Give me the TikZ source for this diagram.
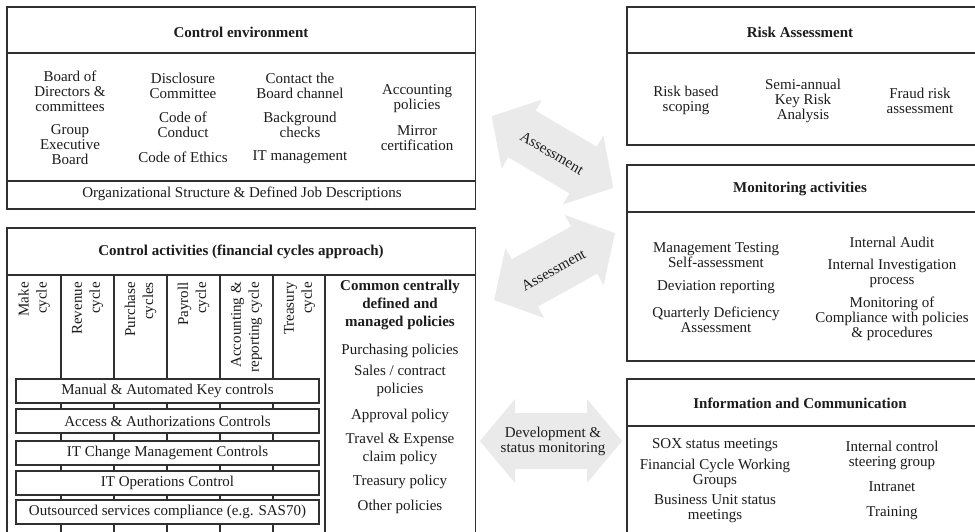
\documentclass[tikz,border=0pt]{standalone}
\usepackage{fontspec}
\setmainfont{Liberation Serif}

\definecolor{linegray}{RGB}{48,48,48}
\definecolor{inkgray}{RGB}{28,28,28}
\definecolor{arrowgray}{RGB}{234,234,234}

\tikzset{
  box/.style={draw=linegray, line width=1.5pt},
  txt/.style={align=center, text=inkgray, inner sep=0pt, font=\fontsize{15}{15}\selectfont},
  ttl/.style={txt, font=\fontsize{15}{15}\selectfont\bfseries},
  roomy/.style={txt, font=\fontsize{15}{18}\selectfont},
  roomybold/.style={txt, font=\fontsize{15}{18}\selectfont\bfseries},
  cyc/.style={roomy, rotate=90, anchor=east, align=right},
  keybox/.style={box, fill=white, minimum width=303pt, minimum height=24pt,
    inner sep=0pt, text=inkgray, font=\fontsize{15}{15}\selectfont},
}

% broad two-headed arrow: centre x, centre y, angle, half length, shaft half width, head half width
\newcommand{\fatarrow}[6]{%
  \begin{scope}[shift={(#1,#2)}, rotate=#3]
    \fill[arrowgray] (-#4,0) -- ({-#4+35},#6) -- ({-#4+35},#5) -- ({#4-35},#5)
      -- ({#4-35},#6) -- (#4,0) -- ({#4-35},-#6) -- ({#4-35},-#5)
      -- ({-#4+35},-#5) -- ({-#4+35},-#6) -- cycle;
  \end{scope}}

\begin{document}
\begin{tikzpicture}[x=1pt, y=-1pt]
\clip (0,0) rectangle (975,532);
\fill[white] (0,0) rectangle (975,532);

% ---------------- Control environment ----------------
\draw[box] (7,7) rectangle (475.5,209);
\draw[box] (7,53) -- (475.5,53);
\draw[box] (7,181) -- (475.5,181);
\node[ttl] (cetitle) at (241,32) {Control environment};
\node[txt] (ce1) at (70,91) {Board of\\Directors \&\\committees};
\node[txt] (ce2) at (70,145) {Group\\Executive\\Board};
\node[txt] (ce3) at (183,86) {Disclosure\\Committee};
\node[txt] (ce4) at (183,124.5) {Code of\\Conduct};
\node[txt] (ce5) at (183,157) {Code of Ethics};
\node[txt] (ce6) at (300,86) {Contact the\\Board channel};
\node[txt] (ce7) at (300,124.5) {Background\\checks};
\node[txt] (ce8) at (300,157) {IT management};
\node[txt] (ce9) at (417,98.5) {Accounting\\policies};
\node[txt] (ce10) at (417,138) {Mirror\\certification};
\node[txt] (org) at (242,194) {Organizational Structure \& Defined Job Descriptions};

% ---------------- Control activities ----------------
\draw[box] (7,545) -- (7,228) -- (475.5,228) -- (475.5,545);
\draw[box] (7,275) -- (475.5,275);
\draw[box] (325,275) -- (325,545);
\foreach \cx in {61,114,167,220,273}
  \draw[box] (\cx,275) -- (\cx,545);
\node[ttl] (catitle) at (241,252) {Control activities (financial cycles approach)};

\node[cyc] (cy1) at (34,282) {Make\\cycle};
\node[cyc] (cy2) at (87.5,282) {Revenue\\cycle};
\node[cyc] (cy3) at (140.5,282) {Purchase\\cycles};
\node[cyc] (cy4) at (193.5,282) {Payroll\\cycle};
\node[cyc] (cy5) at (246.5,282) {Accounting \&\\reporting cycle};
\node[cyc] (cy6) at (299.5,282) {Treasury\\cycle};

\node[keybox] (k1) at (167.5,391) {Manual \& Automated Key controls};
\node[keybox] (k2) at (167.5,421) {Access \& Authorizations Controls};
\node[keybox] (k3) at (167.5,453) {IT Change Management Controls};
\node[keybox] (k4) at (167.5,483) {IT Operations Control};
\node[keybox] (k5) at (167.5,512) {Outsourced services compliance (e.g. SAS70)};

\node[roomybold] (pol0) at (400,305) {Common centrally\\defined and\\managed policies};
\node[roomy] (pol1) at (400,351) {Purchasing policies};
\node[roomy] (pol2) at (400,381) {Sales / contract\\policies};
\node[roomy] (pol3) at (400,416) {Approval policy};
\node[roomy] (pol4) at (400,449) {Travel \& Expense\\claim policy};
\node[roomy] (pol5) at (400,482) {Treasury policy};
\node[roomy] (pol6) at (400,507) {Other policies};

% ---------------- Risk Assessment ----------------
\draw[box] (990,7) -- (627,7) -- (627,145) -- (990,145);
\draw[box] (627,53) -- (990,53);
\node[ttl] (ratitle) at (800,32) {Risk Assessment};
\node[txt] (ra1) at (686,100.5) {Risk based\\scoping};
\node[txt] (ra2) at (803,100.5) {Semi-annual\\Key Risk\\Analysis};
\node[txt] (ra3) at (920,100.5) {Fraud risk\\assessment};

% ---------------- Monitoring activities ----------------
\draw[box] (990,165) -- (627,165) -- (627,361) -- (990,361);
\draw[box] (627,212) -- (990,212);
\node[ttl] (mntitle) at (800,189) {Monitoring activities};
\node[txt] (mn1) at (716,255) {Management Testing\\Self-assessment};
\node[txt] (mn2) at (716,287) {Deviation reporting};
\node[txt] (mn3) at (716,319.5) {Quarterly Deficiency\\Assessment};
\node[txt] (mn4) at (892,242) {Internal Audit};
\node[txt] (mn5) at (892,273.5) {Internal Investigation\\process};
\node[txt] (mn6) at (892,319) {Monitoring of\\Compliance with policies\\\& procedures};

% ---------------- Information and Communication ----------------
\draw[box] (990,379) -- (627,379) -- (627,545);
\draw[box] (627,426) -- (990,426);
\node[ttl] (ictitle) at (800,403) {Information and Communication};
\node[txt] (ic1) at (715,445) {SOX status meetings};
\node[txt] (ic2) at (715,473) {Financial Cycle Working\\Groups};
\node[txt] (ic3) at (715,509) {Business Unit status\\meetings};
\node[txt] (ic4) at (892,455.5) {Internal control\\steering group};
\node[txt] (ic5) at (892,487) {Intranet};
\node[txt] (ic6) at (892,513) {Training};

% ---------------- Broad arrows between the blocks ----------------
\fatarrow{552.5}{152}{-30.5}{70.5}{27}{40}
\node[txt, rotate=-30.5] (as1) at (552,153) {Assessment};
\fatarrow{554.5}{266.5}{29}{69}{27}{40}
\node[txt, rotate=29] (as2) at (553.5,270) {Assessment};
\fatarrow{551}{441}{0}{71}{28}{42}
\node[txt] (dev) at (553,441) {Development \&\\status monitoring};
\end{tikzpicture}
\end{document}
